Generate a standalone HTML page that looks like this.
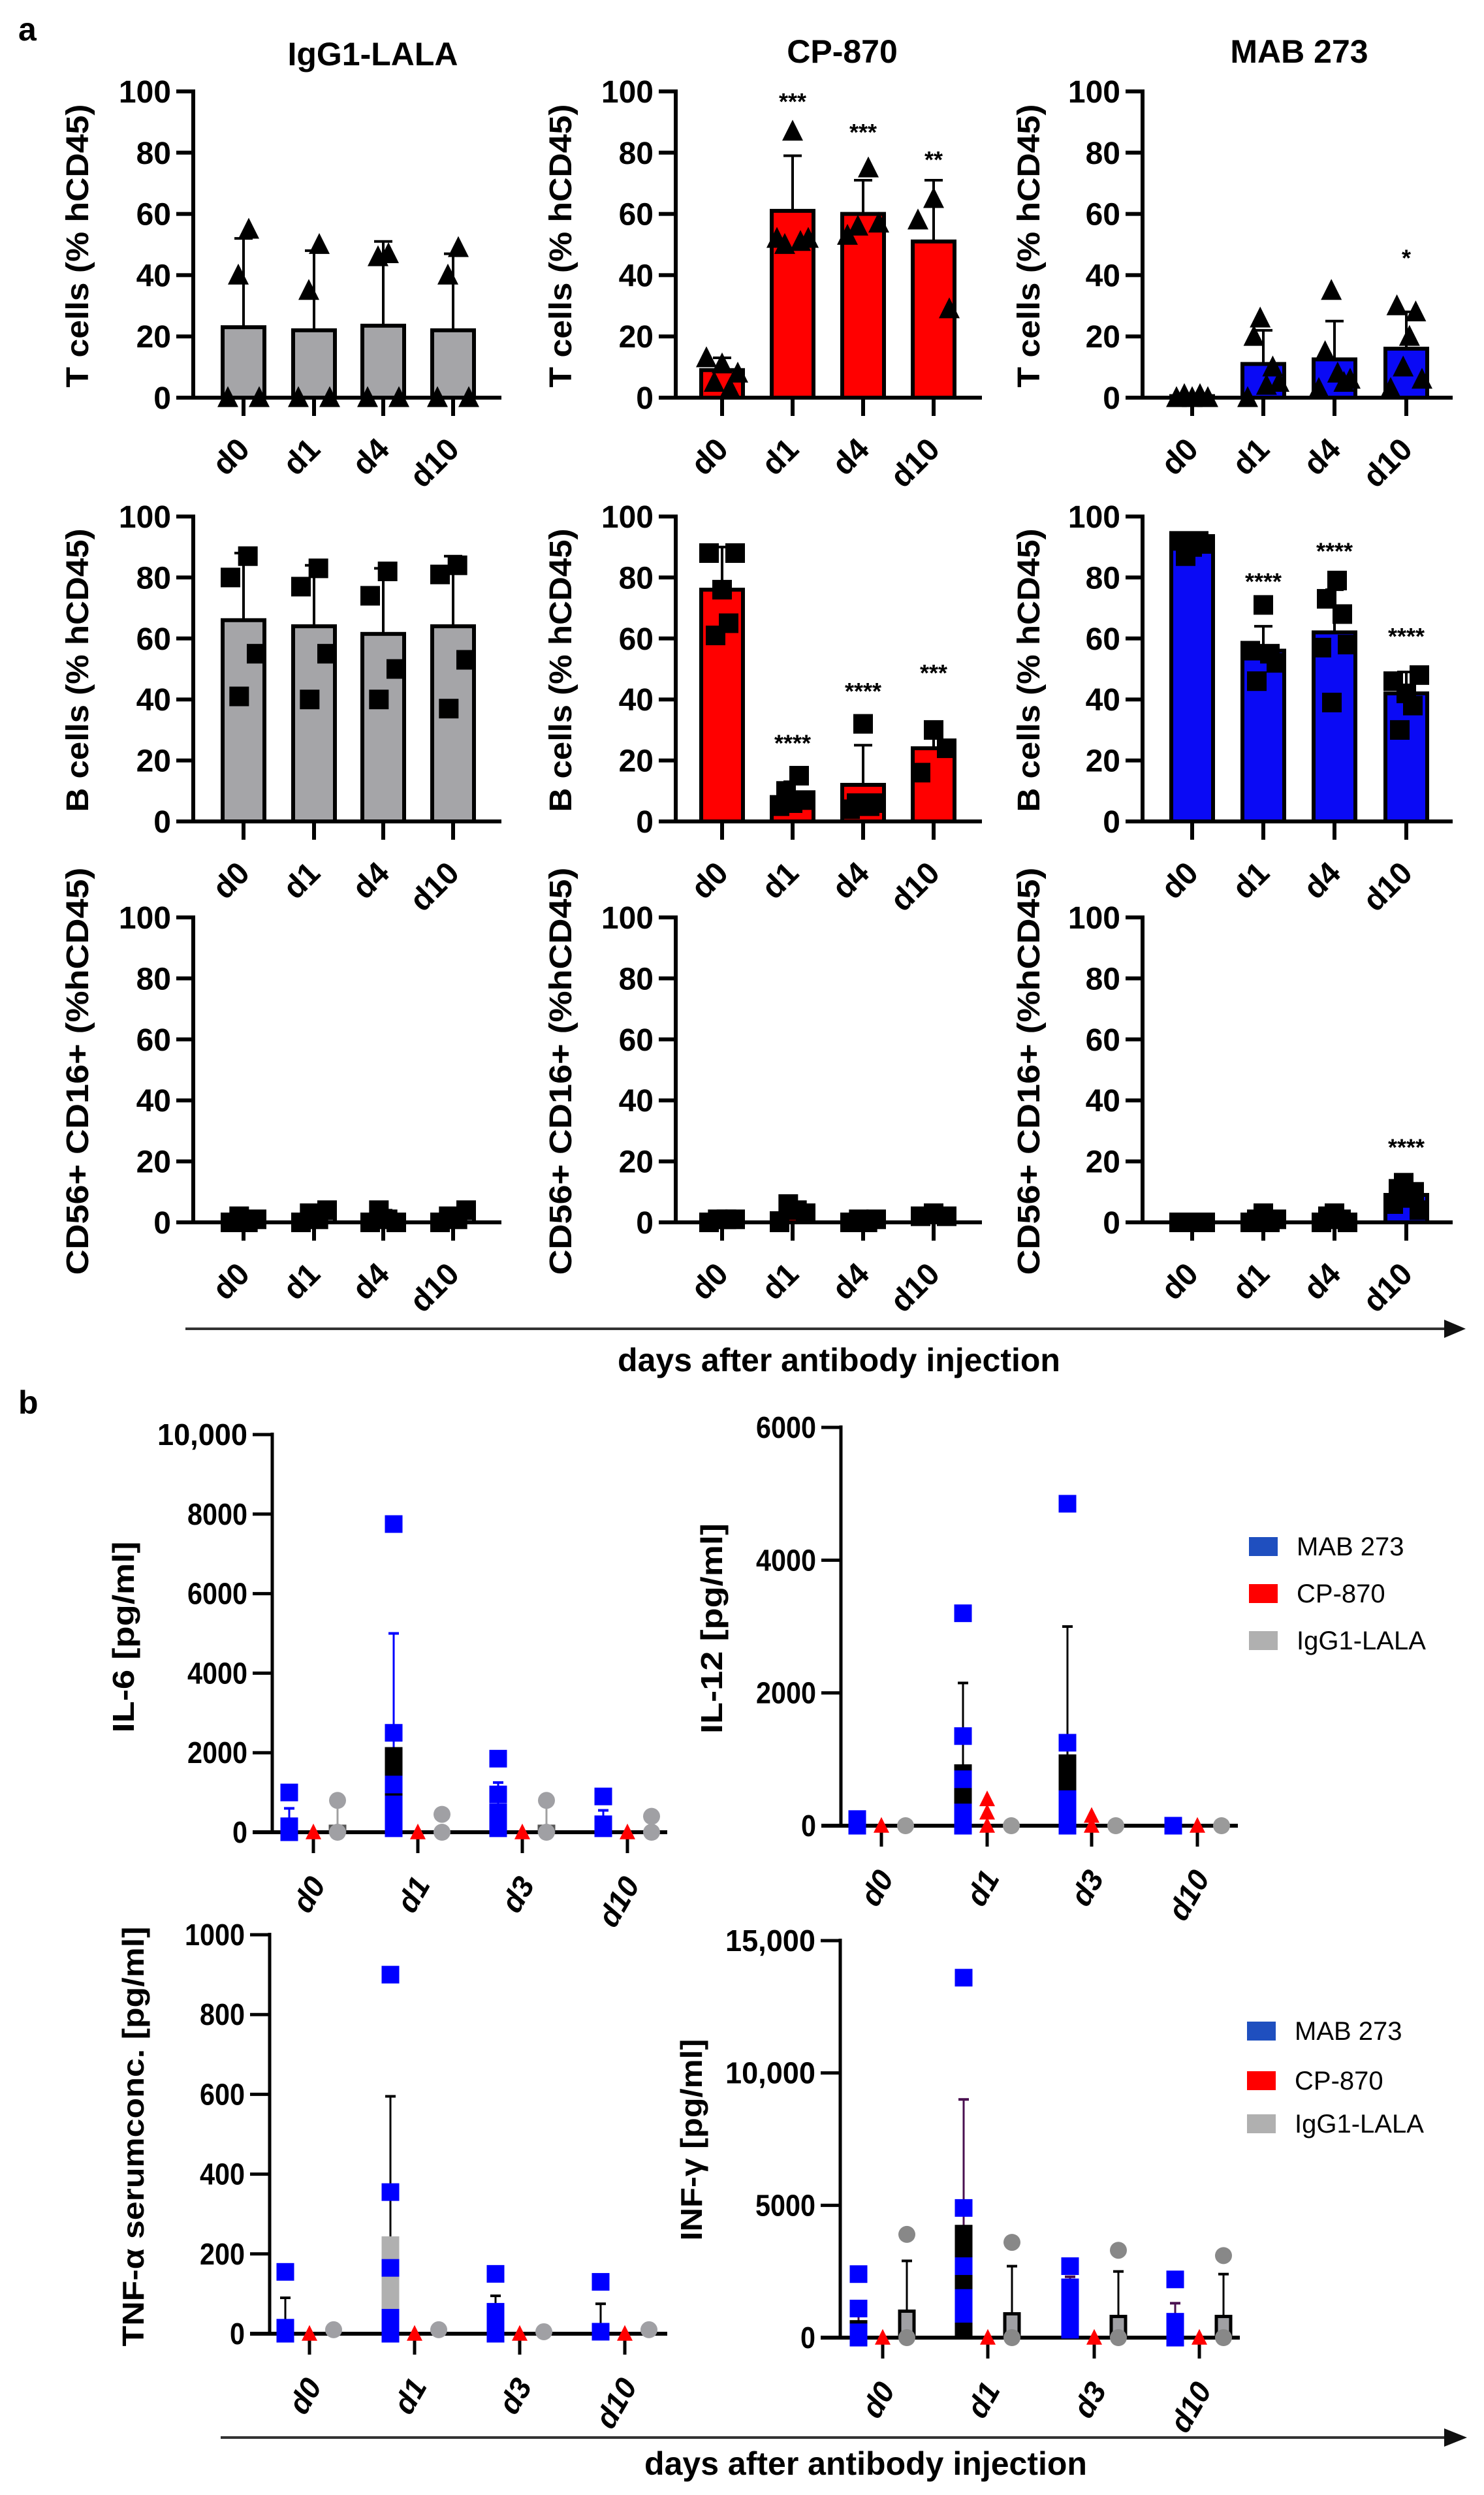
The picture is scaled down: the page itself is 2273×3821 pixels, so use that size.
<!DOCTYPE html>
<html><head><meta charset="utf-8">
<style>
html,body{margin:0;padding:0;background:#fff;}
svg{display:block;}
text{font-family:"Liberation Sans",Arial,sans-serif;}
</style></head>
<body>
<svg id="s" xmlns="http://www.w3.org/2000/svg" width="2273" height="3821" viewBox="0 0 2273 3821">
<rect width="2273" height="3821" fill="#fff"/>
<text x="28" y="62" font-size="50" font-weight="bold">a</text>
<text x="571" y="100" font-size="50" font-weight="bold" text-anchor="middle">IgG1-LALA</text>
<text x="1290" y="96" font-size="50" font-weight="bold" text-anchor="middle">CP-870</text>
<text x="1990" y="96" font-size="50" font-weight="bold" text-anchor="middle">MAB 273</text>
<text x="28" y="2165" font-size="50" font-weight="bold">b</text>
<line x1="284" y1="2035" x2="2215" y2="2035" stroke="#333" stroke-width="4"/>
<polygon points="2212,2021 2245,2035 2212,2049" fill="#111"/>
<text x="1285" y="2100" font-size="50" font-weight="bold" text-anchor="middle">days after antibody injection</text>
<line x1="338" y1="3733" x2="2215" y2="3733" stroke="#333" stroke-width="4"/>
<polygon points="2212,3719 2247,3733 2212,3747" fill="#111"/>
<text x="1326" y="3790" font-size="50" font-weight="bold" text-anchor="middle">days after antibody injection</text>
<rect x="1913" y="2354" width="44" height="29" fill="#1f4fbf"/>
<text x="1986" y="2382" font-size="40">MAB 273</text>
<rect x="1913" y="2426" width="44" height="29" fill="#ff0000"/>
<text x="1986" y="2454" font-size="40">CP-870</text>
<rect x="1913" y="2498" width="44" height="29" fill="#b0b0b0"/>
<text x="1986" y="2526" font-size="40">IgG1-LALA</text>
<rect x="1910" y="3096" width="44" height="29" fill="#1f4fbf"/>
<text x="1983" y="3124" font-size="40">MAB 273</text>
<rect x="1910" y="3172" width="44" height="29" fill="#ff0000"/>
<text x="1983" y="3200" font-size="40">CP-870</text>
<rect x="1910" y="3238" width="44" height="29" fill="#b0b0b0"/>
<text x="1983" y="3266" font-size="40">IgG1-LALA</text>
</svg>
<script>
var S=document.getElementById('s');var NS='http://www.w3.org/2000/svg';
function el(t,a,txt){var e=document.createElementNS(NS,t);for(var k in a)e.setAttribute(k,a[k]);if(txt!==undefined)e.textContent=txt;S.appendChild(e);return e;}
function line(x1,y1,x2,y2,c,w){el('line',{x1:x1,y1:y1,x2:x2,y2:y2,stroke:c||'#000','stroke-width':w||6});}
function tri(cx,cy,s,f){el('polygon',{points:(cx)+','+(cy-s*0.55)+' '+(cx-s/2)+','+(cy+s*0.45)+' '+(cx+s/2)+','+(cy+s*0.45),fill:f});}
function sq(cx,cy,s,f){el('rect',{x:cx-s/2,y:cy-s/2,width:s,height:s,fill:f});}
function circ(cx,cy,r,f){el('ellipse',{cx:cx,cy:cy,rx:r,ry:r,fill:f});}

var cols=[{ax:296,c:[373,481,587,694],xe:768,yl:118,col:'#a5a5a8'},
{ax:1035,c:[1106,1214,1322,1430],xe:1504,yl:858,col:'#ff0000'},
{ax:1750,c:[1826,1935,2044,2154],xe:2225,yl:1575,col:'#0a0af5'}];
var rows=[{t:140,b:609,lab:'T cells (% hCD45)',len:434,mk:'tri'},
{t:791,b:1258,lab:'B cells (% hCD45)',len:434,mk:'sq'},
{t:1405,b:1872,lab:'CD56+ CD16+ (%hCD45)',len:624,mk:'sq'}];
var D=[
[{bars:[23,22,23.5,22],errs:[52,48,51,47],pts:[[0,40,55,0],[0,35,50,0],[0,46,47,0],[0,40,49,0]],st:[]},
 {bars:[9,61,60,51],errs:[13,79,71,71],pts:[[13,5,11,3,8],[52,50,87,51,52],[53,56,75,57],[58,65,29]],st:[[1,97,'***'],[2,87,'***'],[3,78,'**']]},
 {bars:[0.5,11,12.5,16],errs:[1,22,25,28],pts:[[0,1,0,1,0],[0,20,26,4,10,5],[3,15,35,8,5,6],[3,30,10,20,28,6]],st:[[3,46,'*']]}],
[{bars:[66,64,61.5,64],errs:[88,84,83,87],pts:[[80,41,87,55],[77,40,83,55],[74,40,82,50],[81,37,84,53]],st:[]},
 {bars:[76,8,12,24],errs:[90,13,25,32],pts:[[88,61,76,65,88],[5,10,6,15,7],[4,6,32,5,6],[16,30,24]],st:[[1,26,'****'],[2,43,'****'],[3,49,'***']]},
 {bars:[92,56,62,42],errs:[93,64,76,49],pts:[[92,87,90,92,91],[56,46,71,55,52],[57,73,39,79,68,58],[46,30,42,38,48]],st:[[1,79,'****'],[2,89,'****'],[3,61,'****']]}],
[{bars:[0.5,1.5,1.5,1.5],errs:[1.5,3.5,4,3.5],pts:[[0,2,0,1],[0,3,1,4],[0,4,1,0],[0,2,1,4]],st:[]},
 {bars:[1,3,0.5,1.5],errs:[1.5,6,1,2],pts:[[0,1,1,1],[0,6,4,3],[0,1,0,1],[2,3,2]],st:[]},
 {bars:[0,0.5,1,9],errs:[0,1,2,12],pts:[[0,0,0,0,0],[0,1,3,0,1],[0,2,3,1,0],[6,11,13,8,10,4]],st:[[3,25,'****']]}]];
var xl=['d0','d1','d4','d10'];
rows.forEach(function(r,ri){cols.forEach(function(c,ci){
 var d=D[ri][ci];var Y=function(v){return r.b-v/100*(r.b-r.t);};
 var ax=c.ax;
 line(ax,r.t-3,ax,r.b+3);line(ax-26,r.b,c.xe,r.b);
 for(var v=0;v<=100;v+=20){line(ax-26,Y(v),ax,Y(v));el('text',{x:ax-34,y:Y(v)+17,'font-size':48,'font-weight':'bold','text-anchor':'end'},''+v);}
 el('text',{transform:'translate('+(c.yl+17)+','+((r.t+r.b)/2+2)+') rotate(-90)','font-size':48,'font-weight':'bold','text-anchor':'middle',textLength:r.len,lengthAdjust:'spacingAndGlyphs'},r.lab);
 c.c.forEach(function(cx,i){
  line(cx,r.b,cx,r.b+28);
  var yb=Y(d.bars[i]);
  el('rect',{x:cx-32,y:yb,width:64,height:Math.max(r.b-yb,0),fill:c.col,stroke:'#000','stroke-width':6});
  line(cx,yb,cx,Y(d.errs[i]),'#000',4);line(cx-14,Y(d.errs[i]),cx+14,Y(d.errs[i]),'#000',4);
  var p=d.pts[i],n=p.length;var sp=r.mk=='tri'?24:20;
  p.forEach(function(v,j){var dx=n>1?-sp+2*sp*j/(n-1):0;if(r.mk=='tri')tri(cx+dx,Y(v),32,'#000');else sq(cx+dx,Y(v),30,'#000');});
  el('text',{transform:'translate('+(cx+12)+','+(r.b+82)+') rotate(-45)','font-size':48,'font-weight':'bold','text-anchor':'end'},xl[i]);
 });
 d.st.forEach(function(s){el('text',{x:c.c[s[0]],y:Y(s[1])+14,'font-size':36,'font-weight':'bold','text-anchor':'middle'},s[2]);});
});});

function bplot(o){
 var Y=function(v){return o.y0-v/o.max*(o.y0-o.yt);};
 line(o.ax,o.yt-3,o.ax,o.y0+3,'#000',5);line(o.ax-30,o.y0,o.xe,o.y0,'#000',6);
 o.ticks.forEach(function(t){line(o.ax-30,Y(t[0]),o.ax,Y(t[0]),'#000',5);el('text',{x:o.ax-38,y:Y(t[0])+16,'font-size':46,'font-weight':'bold','text-anchor':'end',textLength:t[1].length*23,lengthAdjust:'spacingAndGlyphs'},t[1]);});
 el('text',{transform:'translate('+(o.ylx+17)+','+o.ylc+') rotate(-90)','font-size':46,'font-weight':'bold','text-anchor':'middle',textLength:o.len,lengthAdjust:'spacingAndGlyphs'},o.lab);
 var labs=['d0','d1','d3','d10'];
 o.c.forEach(function(cx,i){
  line(cx,o.y0,cx,o.y0+32,'#000',5);
  el('text',{transform:'translate('+(cx+20)+','+(o.y0+80)+') rotate(-60)','font-size':46,'font-style':'italic','font-weight':'bold','text-anchor':'end'},labs[i]);
  var g=o.g[i];
  [['b',-37,'#000'],['g',37,'#a0a0a4']].forEach(function(k){var s=g[k[0]];if(!s)return;var x=cx+k[1];
   if(s.err){line(x,Y(s.bar||0),x,Y(s.err),s.ec||'#000',3);line(x-8,Y(s.err),x+8,Y(s.err),s.ec||'#000',4);}
   if(s.bar){var yb=Y(s.bar);el('rect',{x:x-11,y:yb,width:22,height:o.y0-yb,fill:s.bf||k[2],stroke:s.bs||'#000','stroke-width':5});}
  });
  if(g.b)g.b.p.forEach(function(v){sq(cx-37,Y(v),27,'#0000ff');});
  if(g.r)g.r.forEach(function(v){tri(cx,Y(v),24,'#ff0000');});
  else tri(cx,o.y0,24,'#ff0000');
  if(g.g&&g.g.p)g.g.p.forEach(function(v){circ(cx+37,Y(v),13,g.g.cf||'#9a9a9a');});
 });
}
bplot({ax:417,yt:2197,y0:2806,max:10000,xe:1022,c:[480,640,800,961],ylx:188,ylc:2507,len:293,lab:'IL-6  [pg/ml]',
 ticks:[[0,'0'],[2000,'2000'],[4000,'4000'],[6000,'6000'],[8000,'8000'],[10000,'10,000']],
 g:[{b:{p:[1000,150,0],bar:150,err:600,ec:'#0000ff',bs:'#0000ff',bf:'#0000ff'},g:{p:[800,0],bar:150,err:800,ec:'#a0a0a0',bs:'#555',bf:'#bbb',cf:'#a0a0a4'}},
    {b:{p:[7750,2500,1200,700,300,100],bar:2100,err:5000,ec:'#0000ff'},g:{p:[450,0],cf:'#a0a0a4'}},
    {b:{p:[1850,950,500,300,100],bar:600,err:1250,ec:'#0000ff'},g:{p:[800,0],bar:150,err:800,ec:'#a0a0a0',bs:'#555',bf:'#bbb',cf:'#a0a0a4'}},
    {b:{p:[900,200,100],bar:200,err:550,ec:'#0000ff'},g:{p:[400,0],cf:'#a0a0a4'}}]});
bplot({ax:1288,yt:2186,y0:2796,max:6000,xe:1896,c:[1350,1512,1672,1834],ylx:1089,ylc:2494,len:322,lab:'IL-12  [pg/ml]',
 ticks:[[0,'0'],[2000,'2000'],[4000,'4000'],[6000,'6000']],
 g:[{b:{p:[100,0]},g:{p:[0]}},
    {b:{p:[3200,1350,700,200,0],bar:900,err:2150},r:[400,200,0],g:{p:[0]}},
    {b:{p:[4850,1250,400,150,0],bar:1050,err:3000},r:[150,0],g:{p:[0]}},
    {b:{p:[0]},g:{p:[0]}}]});
bplot({ax:413,yt:2963,y0:3574,max:1000,xe:1022,c:[474,635,796,957],ylx:203,ylc:3272,len:643,lab:'TNF-\u03b1 serumconc. [pg/ml]',
 ticks:[[0,'0'],[200,'200'],[400,'400'],[600,'600'],[800,'800'],[1000,'1000']],
 g:[{b:{p:[155,15,0],err:90},g:{p:[10],cf:'#a0a0a4'}},
    {b:{p:[900,355,165,40,0],bar:240,err:595,bs:'#b0b0b0',bf:'#b0b0b0'},g:{p:[10],cf:'#a0a0a4'}},
    {b:{p:[150,55,20,0],err:95},g:{p:[5],cf:'#a0a0a4'}},
    {b:{p:[130,5],err:75},g:{p:[10],cf:'#a0a0a4'}}]});
bplot({ax:1287,yt:2972,y0:3580,max:15000,xe:1899,c:[1352,1513,1676,1837],ylx:1058,ylc:3277,len:309,lab:'INF-\u03b3 [pg/ml]',
 ticks:[[0,'0'],[5000,'5000'],[10000,'10,000'],[15000,'15,000']],
 g:[{b:{p:[2400,1100,200,0],bar:600,err:1300,ec:'#4a1050'},g:{p:[3900,0],bar:1000,err:2900,bf:'#a0a0a4',cf:'#888'}},
    {b:{p:[13600,4900,2700,1500,900],bar:4200,err:9000,ec:'#4a1050'},g:{p:[3600,0],bar:900,err:2700,bf:'#a0a0a4',cf:'#888'}},
    {b:{p:[2700,1900,1300,700,300],bar:2000,err:2300,ec:'#4a1050'},g:{p:[3300,0],bar:800,err:2500,bf:'#a0a0a4',cf:'#888'}},
    {b:{p:[2200,600,100,0],bar:600,err:1300,ec:'#4a1050'},g:{p:[3100,0],bar:800,err:2400,bf:'#a0a0a4',cf:'#888'}}]});
</script>
</body></html>
